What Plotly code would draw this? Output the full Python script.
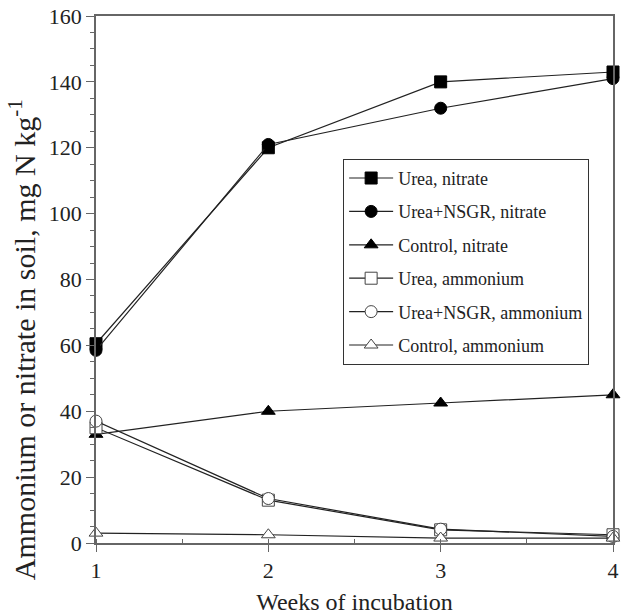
import plotly.graph_objects as go

weeks = [1, 2, 3, 4]
urea_nitrate = [60.5, 120, 140, 143]
nsgr_nitrate = [58.5, 121, 132, 141]
control_nitrate = [33, 40, 42.5, 45]
urea_ammonium = [35, 13, 4, 2.5]
nsgr_ammonium = [37, 13.5, 4.2, 2]
control_ammonium = [3, 2.5, 1.5, 1.5]

series = [
    ("Urea, nitrate", urea_nitrate, "square"),
    ("Urea+NSGR, nitrate", nsgr_nitrate, "circle"),
    ("Control, nitrate", control_nitrate, "triangle-up"),
    ("Urea, ammonium", urea_ammonium, "square-open"),
    ("Urea+NSGR, ammonium", nsgr_ammonium, "circle-open"),
    ("Control, ammonium", control_ammonium, "triangle-up-open"),
]

fig = go.Figure()
for i, (name, vals, sym) in enumerate(series):
    open_ = sym.endswith("open")
    fig.add_trace(go.Scatter(
        x=weeks, y=vals, name=name, mode="lines+markers",
        legendgroup=f"g{i}",
        line=dict(color="#222", width=1.2),
        marker=dict(symbol=sym.replace("-open", ""), size=12,
                    color="white" if open_ else "black",
                    line=dict(color="#444" if open_ else "black", width=1)),
        cliponaxis=False,
    ))

font = "Liberation Serif"
fig.update_layout(
    width=628, height=615,
    margin=dict(l=96, r=15, t=16, b=72),
    paper_bgcolor="white", plot_bgcolor="white",
    font=dict(family=font, size=22, color="#222"),
    legend=dict(x=0.478, y=0.729, xanchor="left", yanchor="top",
                bordercolor="#333", borderwidth=1, bgcolor="white",
                font=dict(size=18, family=font, color="#222"),
                tracegroupgap=7, itemwidth=44),
    annotations=[dict(
        text="Ammonium or nitrate in soil, mg N kg<sup>-1</sup>",
        textangle=-90, xref="paper", yref="paper",
        x=-0.143, y=0.385, xanchor="center", yanchor="middle",
        showarrow=False, font=dict(family=font, size=30, color="#222"),
    )],
)
fig.update_xaxes(
    range=[1, 4], dtick=1, tick0=1, showgrid=False, zeroline=False,
    automargin=False,
    showline=True, mirror=True, linecolor="#666", linewidth=1.5,
    ticks="outside", ticklen=7, tickcolor="#666",
    tickfont=dict(family=font, size=22),
    minor=dict(dtick=0.5, ticks="inside", ticklen=4, tickcolor="#666"),
    title=dict(text="Weeks of incubation", standoff=12,
               font=dict(family=font, size=24)),
)
fig.update_yaxes(
    range=[0, 160], dtick=20, showgrid=False, zeroline=False,
    automargin=False,
    showline=True, mirror=True, linecolor="#666", linewidth=1.5,
    ticks="outside", ticklen=8, tickcolor="#666",
    tickfont=dict(family=font, size=22),
    minor=dict(dtick=5, ticks="outside", ticklen=4, tickcolor="#666"),
)
fig.write_html("out.html", config={"displayModeBar": False},
               post_script="document.body.style.margin='0px';")
